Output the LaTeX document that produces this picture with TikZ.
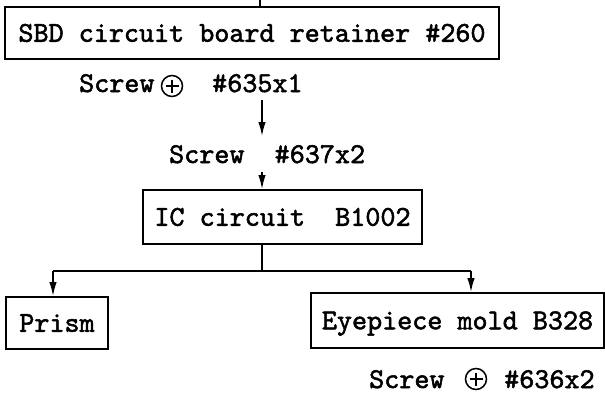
\documentclass[tikz,border=0pt]{standalone}
\usepackage{fontspec}
\usetikzlibrary{arrows.meta}
\newfontfamily\tw{lmmono10-regular.otf}[FakeBold=1.8]
\tikzset{
  box/.style={draw, line width=2pt, inner sep=0pt, text height=17.5pt, text depth=0pt},
  lbl/.style={inner sep=0pt, anchor=base west},
  conn/.style={line width=1.5pt},
  arr/.style={line width=1.5pt, -{Latex[length=14pt,width=7.5pt]}},
  plus/.style={draw, circle, line width=1.5pt, minimum size=21pt, inner sep=0pt,
    path picture={\draw[line width=1.4pt] ([yshift=6.5pt]path picture bounding box.center) -- ([yshift=-6.5pt]path picture bounding box.center)
      ([xshift=-6.5pt]path picture bounding box.center) -- ([xshift=6.5pt]path picture bounding box.center);}}
}
\begin{document}
\begin{tikzpicture}[x=1pt,y=-1pt,font=\tw\fontsize{28.7}{30}\selectfont]
\useasboundingbox (0,0) rectangle (605,405);
% boxes
\node[box, minimum width=494pt, minimum height=52pt] (sbd) at (252,33) {SBD circuit board retainer \#260};
\node[box, minimum width=279pt, minimum height=54pt] (ic) at (282.5,217) {IC circuit\ \ B1002};
\node[box, minimum width=102pt, minimum height=52pt] (prism) at (57,323) {Prism};
\node[box, minimum width=293pt, minimum height=55pt] (eye) at (457.5,320.5) {Eyepiece mold B328};
% labels
\node[lbl] (s1) at (79,92) {Screw};
\node[plus] (p1) at (172,86) {};
\node[lbl] (n1) at (212,92) {\#635x1};
\node[lbl] (s2) at (169,163) {Screw\ \ \#637x2};
\node[lbl] (s3) at (369,388) {Screw};
\node[plus] (p3) at (476,379) {};
\node[lbl] (n3) at (504,388) {\#636x2};
% connectors
\coordinate (top) at (260,0);
\draw[conn] (top) -- (top |- sbd.north);
\coordinate (a1) at (262,100);
\coordinate (a1e) at (262,136);
\draw[arr] (a1) -- (a1e);
\coordinate (a2) at (262,172);
\draw[arr] (a2) -- (a2 |- ic.north);
\coordinate (j) at (262,271);
\coordinate (jl) at (53,271);
\coordinate (jr) at (471,271);
\draw[conn] (ic.south -| j) -- (j);
\draw[conn] (jl) -- (jr);
\draw[arr] (jl) -- (jl |- prism.north);
\draw[arr] (jr) -- (jr |- eye.north);
\end{tikzpicture}
\end{document}
